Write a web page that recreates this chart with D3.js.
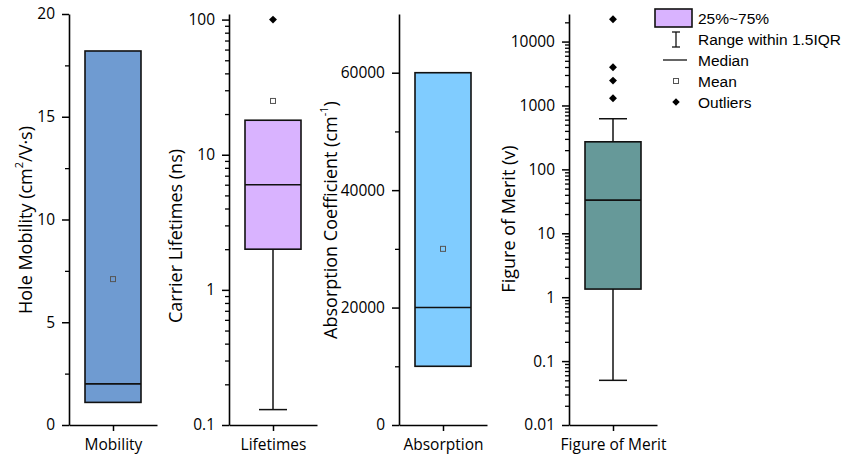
<!DOCTYPE html>
<html>
<head>
<meta charset="utf-8">
<script src="https://cdn.jsdelivr.net/npm/d3@7"></script>
<style>
  body { margin: 0; background: #fff; }
  svg { display: block; }
  .tick text { font-family: "Open Sans", sans-serif; }
</style>
</head>
<body>
<svg id="chart" width="858" height="459"></svg>
<script>
// box statistics, one entry per panel
const categories = ["Mobility", "Lifetimes", "Absorption", "Figure of Merit"];
const yTitles = ["Hole Mobility (cm²/V·s)", "Carrier Lifetimes (ns)", "Absorption Coefficient (cm⁻¹)", "Figure of Merit (v)"];
const q1 = [1.1, 2, 10000, 1.34];
const medians = [2, 6, 20000, 33];
const q3 = [18.2, 18, 60000, 270];
const whiskerLow = [1.1, 0.13, 10000, 0.05];
const whiskerHigh = [18.2, 18, 60000, 620];
const means = [7.1, 25, 30000, null];
const outliers = [[], [100], [], [1300, 2450, 3960, 22400]];

// axis ticks
const majorTicks = [[0, 5, 10, 15, 20], [0.1, 1, 10, 100], [0, 20000, 40000, 60000], [0.01, 0.1, 1, 10, 100, 1000, 10000]];
const minorTicks = [[2.5, 7.5, 12.5, 17.5], "log", [10000, 30000, 50000], "log"];

const legendLabels = ["25%~75%", "Range within 1.5IQR", "Median", "Mean", "Outliers"];

// layout
const panels = [
  { x0: 69, log: false, domain: [0, 20], fill: "#6f9bd1", titleX: 24.5, titleY: 220 },
  { x0: 229, log: true, domain: [0.1, 110], fill: "#d9b3ff", titleX: 174.5, titleY: 236 },
  { x0: 399, log: false, domain: [0, 70000], fill: "#80ccff", titleX: 329.5, titleY: 220 },
  { x0: 569, log: true, domain: [0.01, 27000], fill: "#669999", titleX: 507.5, titleY: 219 }
];
const plotTop = 14, plotBottom = 425, axisW = 88, boxW = 56, capW = 28;

const svg = d3.select("#chart");

panels.forEach((p, i) => {
  const y = (p.log ? d3.scaleLog() : d3.scaleLinear()).domain(p.domain).range([plotBottom, plotTop]);
  const x = d3.scalePoint().domain([categories[i]]).range([p.x0, p.x0 + axisW]).padding(0.5);
  const cx = x(categories[i]);
  const g = svg.append("g");

  // minor ticks
  let minor = minorTicks[i];
  if (minor === "log") {
    minor = [];
    majorTicks[i].forEach(m => {
      for (let k = 2; k <= 9; k++) if (m * k <= p.domain[1]) minor.push(m * k);
    });
  }

  // box
  g.append("rect")
    .attr("x", cx - boxW / 2)
    .attr("width", boxW)
    .attr("y", y(q3[i]))
    .attr("height", y(q1[i]) - y(q3[i]))
    .attr("fill", p.fill)
    .attr("stroke", "#111")
    .attr("stroke-width", 1.6);

  // whiskers
  [[q3[i], whiskerHigh[i]], [q1[i], whiskerLow[i]]].forEach(([a, b]) => {
    if (a === b) return;
    g.append("line")
      .attr("x1", cx).attr("x2", cx)
      .attr("y1", y(a)).attr("y2", y(b))
      .attr("stroke", "#111").attr("stroke-width", 1.5);
    g.append("line")
      .attr("x1", cx - capW / 2).attr("x2", cx + capW / 2)
      .attr("y1", y(b)).attr("y2", y(b))
      .attr("stroke", "#111").attr("stroke-width", 1.5);
  });

  // median
  g.append("line")
    .attr("x1", cx - boxW / 2).attr("x2", cx + boxW / 2)
    .attr("y1", y(medians[i])).attr("y2", y(medians[i]))
    .attr("stroke", "#111").attr("stroke-width", 1.6);

  // mean
  if (means[i] !== null) {
    g.append("rect")
      .attr("x", cx - 2.5).attr("y", y(means[i]) - 2.5)
      .attr("width", 5).attr("height", 5)
      .attr("fill", "none").attr("stroke", "#555").attr("stroke-width", 1);
  }

  // outliers
  g.selectAll(".outlier")
    .data(outliers[i])
    .enter()
    .append("path")
    .attr("class", "outlier")
    .attr("d", d3.symbol(d3.symbolDiamond2, 40))
    .attr("transform", d => `translate(${cx},${y(d)})`)
    .attr("fill", "#000");

  // y axis
  const yAxis = g.append("g")
    .attr("transform", `translate(${p.x0},0)`)
    .call(d3.axisLeft(y).tickValues(majorTicks[i]).tickSize(7).tickPadding(7)
      .tickSizeOuter(0).tickFormat(d => String(d)));
  yAxis.select(".domain").attr("stroke-width", 1.6);
  yAxis.selectAll(".tick line").attr("stroke-width", 1.5);
  yAxis.selectAll(".tick text").attr("font-size", 15.5).attr("fill", "#000");

  const yMinor = g.append("g")
    .attr("transform", `translate(${p.x0},0)`)
    .call(d3.axisLeft(y).tickValues(minor).tickSize(4).tickSizeOuter(0).tickFormat(""));
  yMinor.select(".domain").remove();
  yMinor.selectAll(".tick line").attr("stroke-width", 1.3);

  // x axis
  const xAxis = g.append("g")
    .attr("transform", `translate(0,${plotBottom})`)
    .call(d3.axisBottom(x).tickSize(6).tickPadding(8).tickSizeOuter(0));
  xAxis.select(".domain").attr("stroke-width", 1.6);
  xAxis.selectAll(".tick line").attr("stroke-width", 1.5);
  xAxis.selectAll(".tick text").attr("font-size", 15.5).attr("fill", "#000");

  // y title
  const t = g.append("text")
    .attr("transform", `translate(${p.titleX},${p.titleY}) rotate(-90)`)
    .attr("text-anchor", "middle")
    .attr("dominant-baseline", "central")
    .style("font-family", "'Open Sans', sans-serif")
    .style("font-size", "18px")
    .attr("fill", "#000");
  if (i === 0) {
    t.append("tspan").text("Hole Mobility (cm");
    t.append("tspan").attr("dy", -7).style("font-size", "11px").text("2");
    t.append("tspan").attr("dy", 7).text("/V·s)");
  } else if (i === 2) {
    t.append("tspan").text("Absorption Coefficient (cm");
    t.append("tspan").attr("dy", -7).style("font-size", "11px").text("-1");
    t.append("tspan").attr("dy", 7).text(")");
  } else {
    t.text(yTitles[i]);
  }
});

// legend
const lg = svg.append("g").style("font-family", "'Liberation Sans', Arial, sans-serif").style("font-size", "15.5px");
const rowY = [18, 39, 60, 81, 102];
const symX = 676, textX = 698;
lg.append("rect").attr("x", 655).attr("y", 9).attr("width", 37).attr("height", 18)
  .attr("fill", panels[1].fill).attr("stroke", "#111").attr("stroke-width", 1.6);
lg.append("line").attr("x1", symX).attr("x2", symX).attr("y1", 32).attr("y2", 47).attr("stroke", "#111").attr("stroke-width", 1.3);
lg.append("line").attr("x1", symX - 4).attr("x2", symX + 4).attr("y1", 32).attr("y2", 32).attr("stroke", "#111").attr("stroke-width", 1.3);
lg.append("line").attr("x1", symX - 4).attr("x2", symX + 4).attr("y1", 47).attr("y2", 47).attr("stroke", "#111").attr("stroke-width", 1.3);
lg.append("line").attr("x1", 663).attr("x2", 687).attr("y1", rowY[2]).attr("y2", rowY[2]).attr("stroke", "#111").attr("stroke-width", 1.3);
lg.append("rect").attr("x", symX - 2.5).attr("y", rowY[3] - 2.5).attr("width", 5).attr("height", 5)
  .attr("fill", "none").attr("stroke", "#555").attr("stroke-width", 1);
lg.append("path").attr("d", d3.symbol(d3.symbolDiamond2, 36)).attr("transform", `translate(${symX},${rowY[4]})`).attr("fill", "#000");
lg.selectAll(".lt").data(legendLabels).enter().append("text")
  .attr("class", "lt")
  .attr("x", textX).attr("y", (d, i) => rowY[i])
  .attr("dominant-baseline", "central")
  .attr("fill", "#000")
  .text(d => d);
</script>
</body>
</html>
